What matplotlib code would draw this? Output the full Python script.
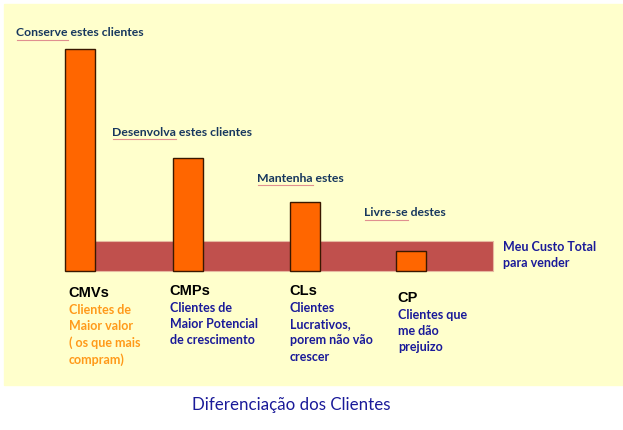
import matplotlib
matplotlib.use('Agg')
import matplotlib.pyplot as plt
from matplotlib.patches import Rectangle
from matplotlib.lines import Line2D

# dados
categorias = ['CMVs', 'CMPs', 'CLs', 'CP']
valores = [100, 51, 31, 9]          # tamanho relativo de cada grupo
custo_total = 13.5                  # nivel do custo total para vender
acoes = ['Conserve estes clientes', 'Desenvolva estes clientes',
         'Mantenha estes', 'Livre-se destes']
descricoes = ['Clientes de\nMaior valor\n( os que mais\ncompram)',
              'Clientes de\nMaior Potencial\nde crescimento',
              'Clientes\nLucrativos,\nporem não vão\ncrescer',
              'Clientes que\nme dão\nprejuizo']
cores_desc = ['#FF9A1A', '#1A1A99', '#1A1A99', '#1A1A99']
titulo = 'Diferenciação dos Clientes'

W, H = 623, 430
fig = plt.figure(figsize=(W / 100, H / 100), dpi=100)
fig.patch.set_facecolor('white')

def fx(x):
    return x / W

def fy(y):
    return 1 - y / H

# fundo amarelo
fig.patches.append(Rectangle((fx(4), fy(385)), fx(619), 381 / H,
                             transform=fig.transFigure, color='#FFFFCC', zorder=-1))

# eixo em coordenadas de pixel no x, valores no y (base em y=271, 2.22 px por unidade)
base, escala = 271, 2.22
ax = fig.add_axes([0, 0, 1, 1])
ax.set_xlim(0, W)
ax.set_ylim((base - H) / escala, base / escala)
ax.axis('off')
ax.patch.set_alpha(0)

x_barras = [79.5, 187.5, 304.5, 410.5]
ax.bar((66 + 493) / 2, custo_total, width=427, color='#C0504D',
       edgecolor='#E6B9A0', linewidth=0.8, zorder=1)
ax.bar(x_barras, valores, width=30, color='#FF6600', edgecolor='#3A1800',
       linewidth=1, zorder=2)

fonte = ['Lato', 'DejaVu Sans']
fonte_cat = ['Liberation Sans', 'DejaVu Sans']

# textos das acoes, com o sublinhado vermelho sob a primeira palavra
pos_acoes = [(16, 33), (112, 132), (257, 178), (364, 213)]
fig.canvas.draw()
renderer = fig.canvas.get_renderer()
for txt, (x, y) in zip(acoes, pos_acoes):
    fig.text(fx(x), fy(y), txt, fontsize=8.8, fontweight='bold', color='#17375E',
             family=fonte, ha='left', va='center')
    primeira = fig.text(fx(x), fy(y), txt.split(' ')[0], fontsize=8.8,
                        fontweight='bold', family=fonte, ha='left', va='center', alpha=0)
    bb = primeira.get_window_extent(renderer)
    fig.lines.append(Line2D([fx(bb.x0 + 1), fx(bb.x1)], [fy(y + 7), fy(y + 7)],
                            transform=fig.transFigure, color='#E09090', lw=0.8))

# categorias e descricoes
pos_cat = [(68, 293), (169, 291), (289, 291), (397, 298)]
for cat, desc, cor, (x, y) in zip(categorias, descricoes, cores_desc, pos_cat):
    fig.text(fx(x), fy(y), cat, fontsize=10.5, fontweight='bold', color='black',
             family=fonte_cat, ha='left', va='center')
    fig.text(fx(x + 1), fy(y + 11), desc, fontsize=9, fontweight='bold', color=cor,
             family=fonte, ha='left', va='top', linespacing=1.42)

fig.text(fx(503), fy(255), 'Meu Custo Total\npara vender', fontsize=9,
         fontweight='bold', color='#1A1A99', family=fonte, ha='left', va='center',
         linespacing=1.45)

fig.text(fx(291), fy(405), titulo, fontsize=12.2, color='#1A1A99', family=fonte,
         ha='center', va='center')

plt.savefig('out.png', dpi=100, facecolor='white')
plt.close()
